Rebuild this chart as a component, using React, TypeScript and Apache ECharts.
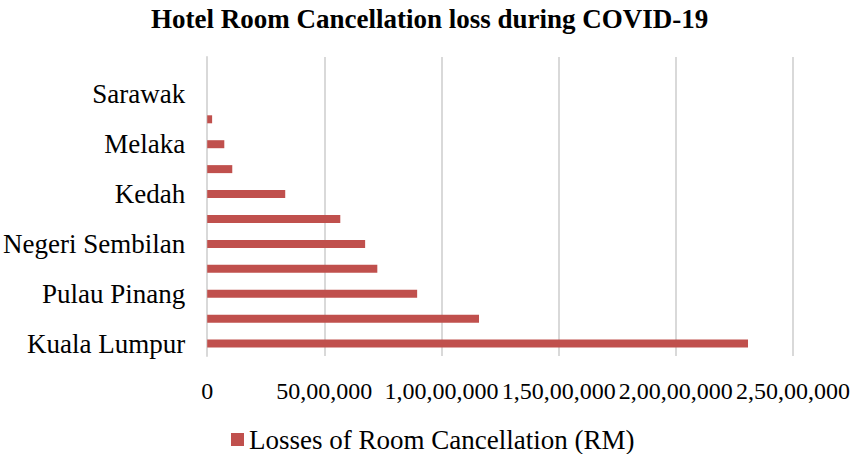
import React, { useEffect, useRef } from "react";
import * as echarts from "echarts";

const categories = [
  "Kuala Lumpur",
  "Selangor",
  "Pulau Pinang",
  "Sabah",
  "Negeri Sembilan",
  "Johor",
  "Kedah",
  "Perak",
  "Melaka",
  "Pahang",
  "Sarawak",
  "Terengganu",
];
const losses = [23080000, 11600000, 8960000, 7260000, 6740000, 5680000, 3330000, 1070000, 730000, 210000, 0, 0];
const seriesName = "Losses of Room Cancellation (RM)";
const title = "Hotel Room Cancellation loss during COVID-19";

function indianFormat(v: number): string {
  const s = String(Math.round(v));
  if (s.length <= 3) return s;
  const last3 = s.slice(-3);
  let rest = s.slice(0, -3);
  const parts: string[] = [];
  while (rest.length > 2) {
    parts.unshift(rest.slice(-2));
    rest = rest.slice(0, -2);
  }
  if (rest.length) parts.unshift(rest);
  return parts.join(",") + "," + last3;
}

const FONT = "'Liberation Serif', 'Times New Roman', serif";

export default function App() {
  const ref = useRef<HTMLDivElement>(null);
  useEffect(() => {
    if (!ref.current) return;
    const chart = echarts.init(ref.current, undefined, { renderer: "svg" });
    chart.setOption({
      animation: false,
      backgroundColor: "#ffffff",
      textStyle: { fontFamily: FONT },
      title: {
        text: title,
        left: 146,
        top: 0,
        textStyle: { fontFamily: FONT, fontWeight: "bold", fontSize: 27, color: "#000" },
      },
      legend: {
        data: [seriesName],
        left: 226,
        top: 421,
        icon: "rect",
        itemWidth: 13,
        itemHeight: 13,
        itemGap: 4,
        textStyle: { fontFamily: FONT, fontSize: 27, color: "#000", padding: [0, 0, 0, 0] },
      },
      grid: { left: 207, right: 61, top: 57, bottom: 98, containLabel: false },
      xAxis: {
        type: "value",
        min: 0,
        max: 25000000,
        interval: 5000000,
        axisLine: { show: false },
        axisTick: { show: false },
        splitLine: { show: true, lineStyle: { color: "#d9d9d9", width: 2 } },
        axisLabel: {
          margin: 23,
          fontFamily: FONT,
          fontSize: 24,
          color: "#000",
          formatter: (v: number) => indianFormat(v),
        },
      },
      yAxis: {
        type: "category",
        data: categories,
        axisLine: { show: true, lineStyle: { color: "#d9d9d9", width: 2 } },
        axisTick: { show: false },
        axisLabel: {
          interval: 1,
          margin: 22,
          fontFamily: FONT,
          fontSize: 27,
          color: "#000",
        },
      },
      series: [
        {
          name: seriesName,
          type: "bar",
          data: losses,
          barWidth: 8,
          itemStyle: { color: "#c0504d" },
        },
      ],
    });
    return () => chart.dispose();
  }, []);
  return (
    <div
      ref={ref}
      style={{ position: "fixed", left: 0, top: 0, width: 854, height: 454 }}
    />
  );
}
